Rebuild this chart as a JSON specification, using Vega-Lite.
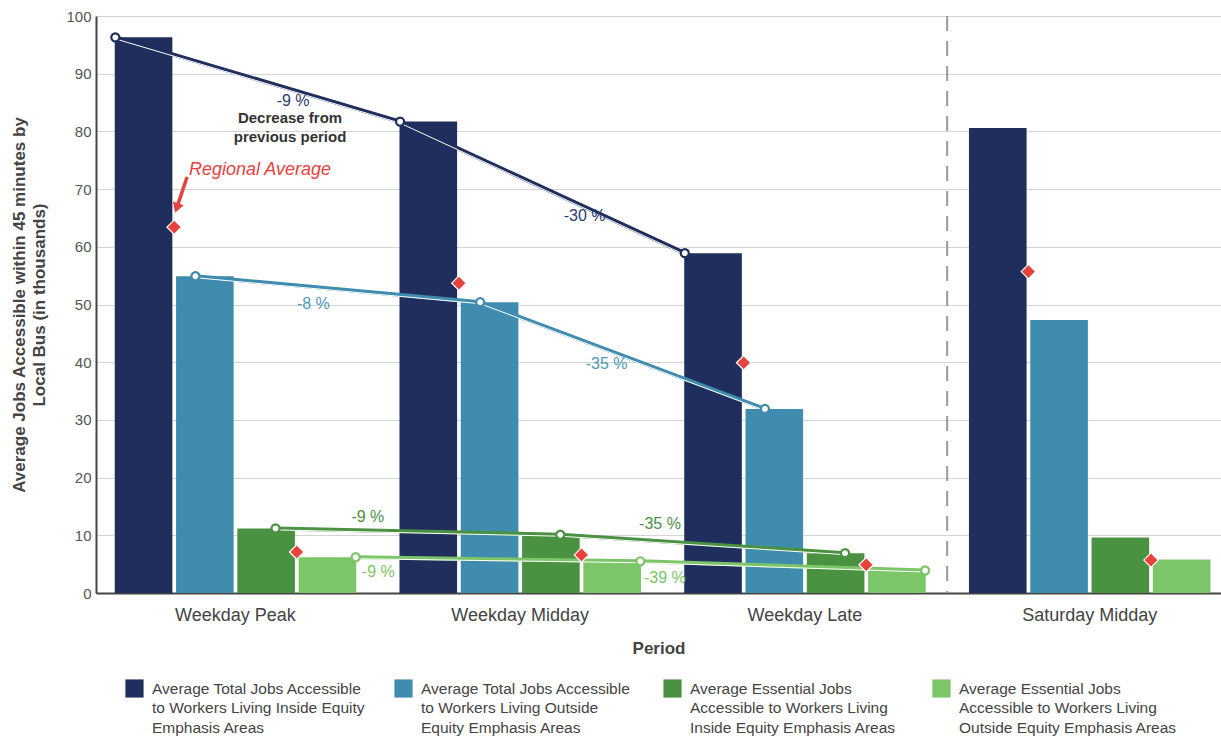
{
  "$schema": "https://vega.github.io/schema/vega-lite/v6.json",
  "width": 1125,
  "height": 577,
  "autosize": {"type": "none"},
  "padding": {"top": 16, "left": 96, "right": 0, "bottom": 147},
  "background": "white",
  "config": {
    "font": "Liberation Sans",
    "view": {"stroke": null},
    "style": {"guide-label": {"lineHeight": 19.5}},
    "legend": {
      "orient": "none",
      "legendX": 29,
      "legendY": 663,
      "direction": "horizontal",
      "columns": 4,
      "gridAlign": "all",
      "columnPadding": 24,
      "symbolType": "square",
      "symbolSize": 330,
      "symbolStrokeWidth": 0,
      "labelFontSize": 15.5,
      "labelColor": "#444444",
      "labelLimit": 280,
      "labelOffset": 8,
      "title": null
    }
  },
  "datasets": {
    "bars": [
      {"period": "Weekday Peak", "series": "Average Total Jobs Accessible|to Workers Living Inside Equity|Emphasis Areas", "value": 96.3},
      {"period": "Weekday Peak", "series": "Average Total Jobs Accessible|to Workers Living Outside|Equity Emphasis Areas", "value": 54.9},
      {"period": "Weekday Peak", "series": "Average Essential Jobs|Accessible to Workers Living|Inside Equity Emphasis Areas", "value": 11.2},
      {"period": "Weekday Peak", "series": "Average Essential Jobs|Accessible to Workers Living|Outside Equity Emphasis Areas", "value": 6.2},
      {"period": "Weekday Midday", "series": "Average Total Jobs Accessible|to Workers Living Inside Equity|Emphasis Areas", "value": 81.7},
      {"period": "Weekday Midday", "series": "Average Total Jobs Accessible|to Workers Living Outside|Equity Emphasis Areas", "value": 50.4},
      {"period": "Weekday Midday", "series": "Average Essential Jobs|Accessible to Workers Living|Inside Equity Emphasis Areas", "value": 10.1},
      {"period": "Weekday Midday", "series": "Average Essential Jobs|Accessible to Workers Living|Outside Equity Emphasis Areas", "value": 5.5},
      {"period": "Weekday Late", "series": "Average Total Jobs Accessible|to Workers Living Inside Equity|Emphasis Areas", "value": 58.9},
      {"period": "Weekday Late", "series": "Average Total Jobs Accessible|to Workers Living Outside|Equity Emphasis Areas", "value": 31.9},
      {"period": "Weekday Late", "series": "Average Essential Jobs|Accessible to Workers Living|Inside Equity Emphasis Areas", "value": 6.9},
      {"period": "Weekday Late", "series": "Average Essential Jobs|Accessible to Workers Living|Outside Equity Emphasis Areas", "value": 3.9},
      {"period": "Saturday Midday", "series": "Average Total Jobs Accessible|to Workers Living Inside Equity|Emphasis Areas", "value": 80.6},
      {"period": "Saturday Midday", "series": "Average Total Jobs Accessible|to Workers Living Outside|Equity Emphasis Areas", "value": 47.3},
      {"period": "Saturday Midday", "series": "Average Essential Jobs|Accessible to Workers Living|Inside Equity Emphasis Areas", "value": 9.6},
      {"period": "Saturday Midday", "series": "Average Essential Jobs|Accessible to Workers Living|Outside Equity Emphasis Areas", "value": 5.8}
    ],
    "regional": [
      {"period": "Weekday Peak", "group": "Total", "off": 1, "value": 63.4},
      {"period": "Weekday Peak", "group": "Essential", "off": 3, "value": 7.1},
      {"period": "Weekday Midday", "group": "Total", "off": 1, "value": 53.7},
      {"period": "Weekday Midday", "group": "Essential", "off": 3, "value": 6.6},
      {"period": "Weekday Late", "group": "Total", "off": 1, "value": 39.9},
      {"period": "Weekday Late", "group": "Essential", "off": 3, "value": 4.9},
      {"period": "Saturday Midday", "group": "Total", "off": 1, "value": 55.7},
      {"period": "Saturday Midday", "group": "Essential", "off": 3, "value": 5.7}
    ],
    "pct": [
      {"period": "Weekday Peak", "off": 2.94, "value": 85.3, "text": "-9 %", "series": "Average Total Jobs Accessible|to Workers Living Inside Equity|Emphasis Areas"},
      {"period": "Weekday Midday", "off": 3.05, "value": 65.3, "text": "-30 %", "series": "Average Total Jobs Accessible|to Workers Living Inside Equity|Emphasis Areas"},
      {"period": "Weekday Peak", "off": 3.27, "value": 50.1, "text": "-8 %", "series": "Average Total Jobs Accessible|to Workers Living Outside|Equity Emphasis Areas"},
      {"period": "Weekday Midday", "off": 3.41, "value": 39.7, "text": "-35 %", "series": "Average Total Jobs Accessible|to Workers Living Outside|Equity Emphasis Areas"},
      {"period": "Weekday Peak", "off": 4.16, "value": 13.2, "text": "-9 %", "series": "Average Essential Jobs|Accessible to Workers Living|Inside Equity Emphasis Areas"},
      {"period": "Weekday Midday", "off": 4.28, "value": 12.0, "text": "-35 %", "series": "Average Essential Jobs|Accessible to Workers Living|Inside Equity Emphasis Areas"},
      {"period": "Weekday Peak", "off": 4.33, "value": 3.6, "text": "-9 %", "series": "Average Essential Jobs|Accessible to Workers Living|Outside Equity Emphasis Areas"},
      {"period": "Weekday Midday", "off": 4.36, "value": 2.6, "text": "-39 %", "series": "Average Essential Jobs|Accessible to Workers Living|Outside Equity Emphasis Areas"}
    ],
    "note": [
      {"period": "Weekday Peak", "off": 2.89, "value": 82.3, "text": "Decrease from\nprevious period"}
    ],
    "regLabel": [
      {"period": "Weekday Peak", "off": 2.40, "value": 73.3, "text": "Regional Average"}
    ],
    "arrow": [
      {"period": "Weekday Peak", "off": 1.21, "value": 72.1, "end": false},
      {"period": "Weekday Peak", "off": 1.05, "value": 67.0, "end": true}
    ],
    "divider": [
      {"period": "Weekday Late", "off": 4.32}
    ]
  },
  "layer": [
    {
      "data": {"name": "divider"},
      "mark": {"type": "rule", "color": "#9a9a9a", "strokeWidth": 2, "strokeDash": [15, 10]},
      "encoding": {
        "x": {"field": "period", "type": "nominal"},
        "xOffset": {"field": "off", "type": "quantitative", "scale": {"domain": [0, 4]}}
      }
    },
    {
      "data": {"name": "bars"},
      "mark": {"type": "bar"},
      "encoding": {
        "x": {
          "field": "period", "type": "nominal",
          "sort": ["Weekday Peak", "Weekday Midday", "Weekday Late", "Saturday Midday"],
          "scale": {"domain": ["Weekday Peak", "Weekday Midday", "Weekday Late", "Saturday Midday"], "paddingInner": 0.139, "paddingOuter": 0.045, "align": 0.66},
          "axis": {
            "title": "Period", "titleFontSize": 17, "titleFontWeight": "bold", "titleColor": "#444444", "titlePadding": 16,
            "labelAngle": 0, "labelAlign": "center", "labelFontSize": 18, "labelColor": "#444444", "labelPadding": 22,
            "ticks": false, "domainColor": "#444444", "domainWidth": 2
          }
        },
        "xOffset": {
          "field": "series", "type": "nominal",
          "scale": {"domain": [
            "Average Total Jobs Accessible|to Workers Living Inside Equity|Emphasis Areas",
            "Average Total Jobs Accessible|to Workers Living Outside|Equity Emphasis Areas",
            "Average Essential Jobs|Accessible to Workers Living|Inside Equity Emphasis Areas",
            "Average Essential Jobs|Accessible to Workers Living|Outside Equity Emphasis Areas"
          ], "paddingInner": 0.06, "paddingOuter": 0.03}
        },
        "y": {
          "field": "value", "type": "quantitative",
          "scale": {"domain": [0, 100], "nice": false},
          "axis": {
            "title": ["Average Jobs Accessible within 45 minutes by", "Local Bus (in thousands)"],
            "titleFontSize": 17, "titleFontWeight": "bold", "titleColor": "#444444", "titlePadding": 17, "titleLineHeight": 20,
            "values": [0, 5, 10, 15, 20, 25, 30, 35, 40, 45, 50, 55, 60, 65, 70, 75, 80, 85, 90, 95, 100],
            "labelExpr": "datum.value % 10 == 0 ? datum.label : ''",
            "labelFontSize": 15, "labelColor": "#555555", "labelPadding": 5,
            "ticks": false,
            "gridColor": "#d4d4d4", "gridWidth": 1.2,
            "domainColor": "#444444", "domainWidth": 2
          }
        },
        "color": {
          "field": "series", "type": "nominal",
          "scale": {"domain": [
            "Average Total Jobs Accessible|to Workers Living Inside Equity|Emphasis Areas",
            "Average Total Jobs Accessible|to Workers Living Outside|Equity Emphasis Areas",
            "Average Essential Jobs|Accessible to Workers Living|Inside Equity Emphasis Areas",
            "Average Essential Jobs|Accessible to Workers Living|Outside Equity Emphasis Areas"
          ], "range": ["#1f2e5d", "#3f8cae", "#4a9142", "#7cc568"]},
          "legend": {"labelExpr": "split(datum.label, '|')"}
        }
      }
    },
    {
      "data": {"name": "bars"},
      "transform": [{"filter": "datum.period != 'Saturday Midday'"}],
      "mark": {"type": "line", "strokeWidth": 4},
      "encoding": {
        "x": {"field": "period", "type": "nominal", "sort": ["Weekday Peak", "Weekday Midday", "Weekday Late", "Saturday Midday"]},
        "xOffset": {"field": "series", "type": "nominal", "scale": {"domain": [
            "Average Total Jobs Accessible|to Workers Living Inside Equity|Emphasis Areas",
            "Average Total Jobs Accessible|to Workers Living Outside|Equity Emphasis Areas",
            "Average Essential Jobs|Accessible to Workers Living|Inside Equity Emphasis Areas",
            "Average Essential Jobs|Accessible to Workers Living|Outside Equity Emphasis Areas"
          ], "paddingInner": 0.06, "paddingOuter": 0.03}},
        "y": {"field": "value", "type": "quantitative"},
        "stroke": {
          "field": "series", "type": "nominal",
          "scale": {"domain": [
            "Average Total Jobs Accessible|to Workers Living Inside Equity|Emphasis Areas",
            "Average Total Jobs Accessible|to Workers Living Outside|Equity Emphasis Areas",
            "Average Essential Jobs|Accessible to Workers Living|Inside Equity Emphasis Areas",
            "Average Essential Jobs|Accessible to Workers Living|Outside Equity Emphasis Areas"
          ], "range": ["#1f2e5d", "#3f8cae", "#4a9142", "#7cc568"]},
          "legend": null
        }
      }
    },
    {
      "data": {"name": "bars"},
      "transform": [{"filter": "datum.period != 'Saturday Midday'"}],
      "mark": {"type": "line", "strokeWidth": 1, "color": "white", "yOffset": 1.5},
      "encoding": {
        "x": {"field": "period", "type": "nominal", "sort": ["Weekday Peak", "Weekday Midday", "Weekday Late", "Saturday Midday"]},
        "xOffset": {"field": "series", "type": "nominal", "scale": {"domain": [
            "Average Total Jobs Accessible|to Workers Living Inside Equity|Emphasis Areas",
            "Average Total Jobs Accessible|to Workers Living Outside|Equity Emphasis Areas",
            "Average Essential Jobs|Accessible to Workers Living|Inside Equity Emphasis Areas",
            "Average Essential Jobs|Accessible to Workers Living|Outside Equity Emphasis Areas"
          ], "paddingInner": 0.06, "paddingOuter": 0.03}},
        "y": {"field": "value", "type": "quantitative"},
        "detail": {"field": "series"}
      }
    },
    {
      "data": {"name": "bars"},
      "transform": [{"filter": "datum.period != 'Saturday Midday'"}],
      "mark": {"type": "point", "shape": "circle", "filled": true, "fill": "white", "strokeWidth": 2.2, "size": 65, "opacity": 1},
      "encoding": {
        "x": {"field": "period", "type": "nominal", "sort": ["Weekday Peak", "Weekday Midday", "Weekday Late", "Saturday Midday"]},
        "xOffset": {"field": "series", "type": "nominal", "scale": {"domain": [
            "Average Total Jobs Accessible|to Workers Living Inside Equity|Emphasis Areas",
            "Average Total Jobs Accessible|to Workers Living Outside|Equity Emphasis Areas",
            "Average Essential Jobs|Accessible to Workers Living|Inside Equity Emphasis Areas",
            "Average Essential Jobs|Accessible to Workers Living|Outside Equity Emphasis Areas"
          ], "paddingInner": 0.06, "paddingOuter": 0.03}},
        "y": {"field": "value", "type": "quantitative"},
        "stroke": {"field": "series", "type": "nominal", "legend": null}
      }
    },
    {
      "data": {"name": "regional"},
      "mark": {"type": "point", "shape": "diamond", "filled": true, "fill": "#e8423f", "stroke": "white", "strokeWidth": 1.2, "size": 210, "opacity": 1},
      "encoding": {
        "x": {"field": "period", "type": "nominal"},
        "xOffset": {"field": "off", "type": "quantitative", "scale": {"domain": [0, 4]}},
        "y": {"field": "value", "type": "quantitative"}
      }
    },
    {
      "data": {"name": "pct"},
      "mark": {"type": "text", "fontSize": 16},
      "encoding": {
        "x": {"field": "period", "type": "nominal"},
        "xOffset": {"field": "off", "type": "quantitative", "scale": {"domain": [0, 4]}},
        "y": {"field": "value", "type": "quantitative"},
        "text": {"field": "text"},
        "fill": {
          "field": "series", "type": "nominal",
          "scale": {"domain": [
            "Average Total Jobs Accessible|to Workers Living Inside Equity|Emphasis Areas",
            "Average Total Jobs Accessible|to Workers Living Outside|Equity Emphasis Areas",
            "Average Essential Jobs|Accessible to Workers Living|Inside Equity Emphasis Areas",
            "Average Essential Jobs|Accessible to Workers Living|Outside Equity Emphasis Areas"
          ], "range": ["#2b3a6b", "#4f98b8", "#4a9142", "#7cc568"]},
          "legend": null
        }
      }
    },
    {
      "data": {"name": "note"},
      "mark": {"type": "text", "fontSize": 15, "fontWeight": "bold", "color": "#333333", "lineBreak": "\n", "lineHeight": 19},
      "encoding": {
        "x": {"field": "period", "type": "nominal"},
        "xOffset": {"field": "off", "type": "quantitative", "scale": {"domain": [0, 4]}},
        "y": {"field": "value", "type": "quantitative"},
        "text": {"field": "text"}
      }
    },
    {
      "data": {"name": "regLabel"},
      "mark": {"type": "text", "fontSize": 18, "fontStyle": "italic", "color": "#e8423f"},
      "encoding": {
        "x": {"field": "period", "type": "nominal"},
        "xOffset": {"field": "off", "type": "quantitative", "scale": {"domain": [0, 4]}},
        "y": {"field": "value", "type": "quantitative"},
        "text": {"field": "text"}
      }
    },
    {
      "data": {"name": "arrow"},
      "mark": {"type": "line", "color": "#e8423f", "strokeWidth": 3.5},
      "encoding": {
        "x": {"field": "period", "type": "nominal"},
        "xOffset": {"field": "off", "type": "quantitative", "scale": {"domain": [0, 4]}},
        "y": {"field": "value", "type": "quantitative"}
      }
    },
    {
      "data": {"name": "arrow"},
      "transform": [{"filter": "datum.end"}],
      "mark": {"type": "point", "shape": "triangle", "filled": true, "color": "#e8423f", "size": 130, "angle": 199, "opacity": 1},
      "encoding": {
        "x": {"field": "period", "type": "nominal"},
        "xOffset": {"field": "off", "type": "quantitative", "scale": {"domain": [0, 4]}},
        "y": {"field": "value", "type": "quantitative"}
      }
    }
  ],
  "resolve": {"scale": {"xOffset": "independent"}}
}
